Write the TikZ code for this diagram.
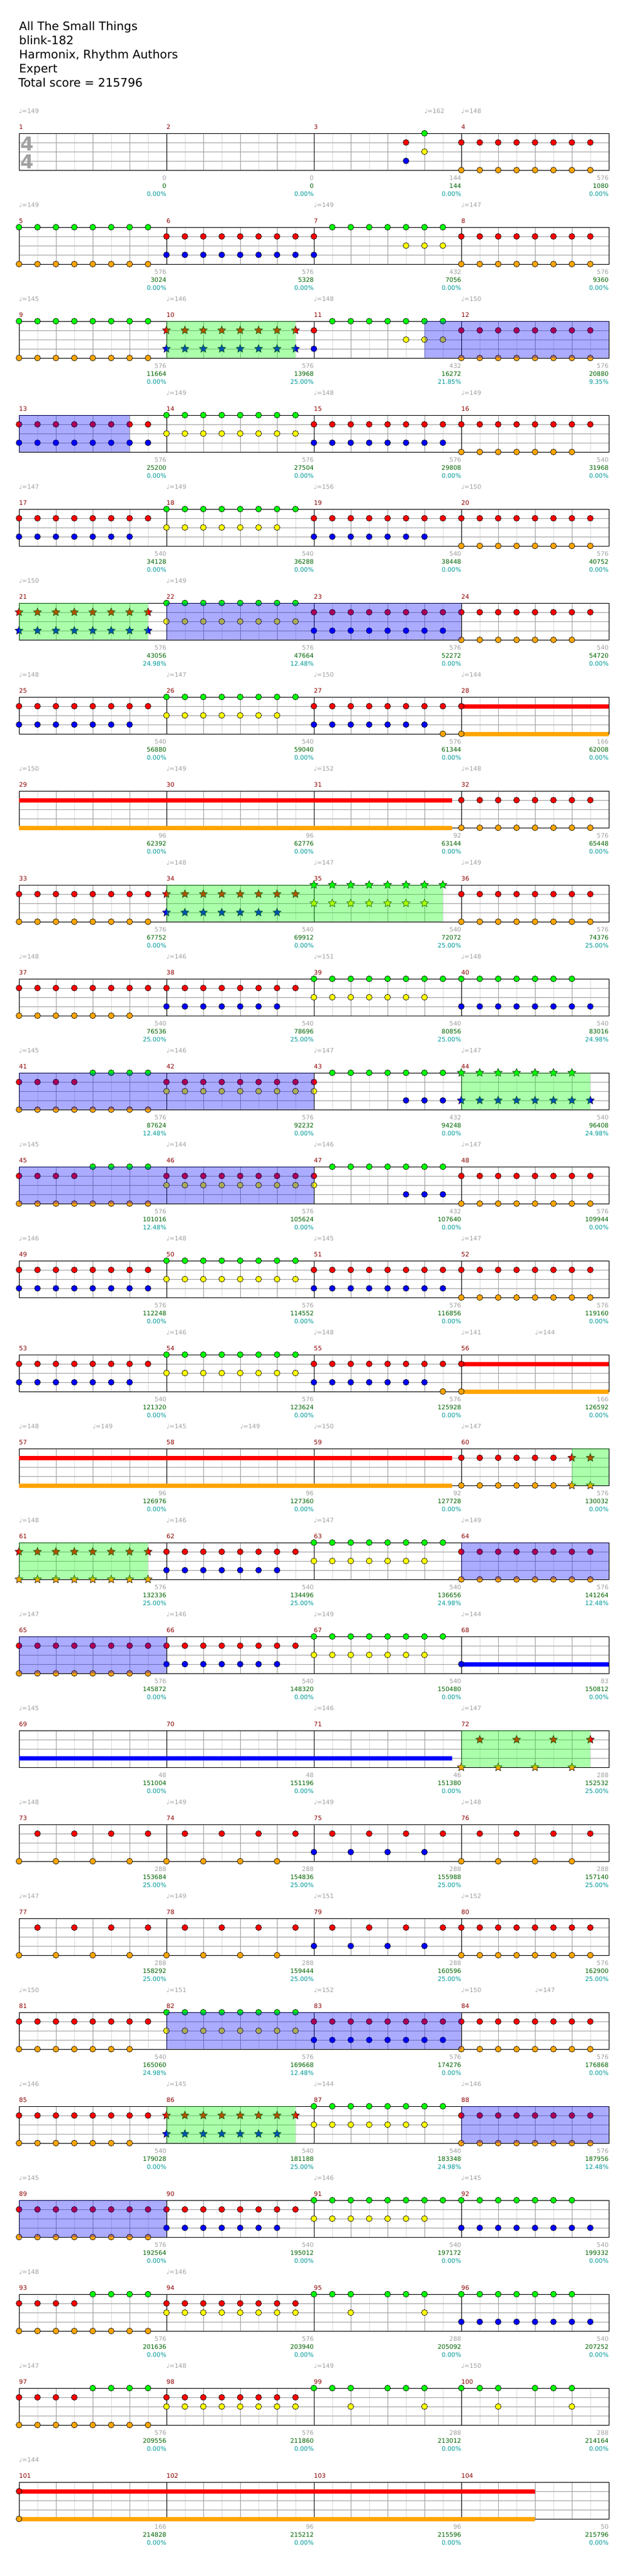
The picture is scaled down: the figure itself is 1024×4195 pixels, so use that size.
\documentclass[tikz,border=0pt]{standalone}
\usepackage{fontspec}
\setmainfont{DejaVu Sans}
\usetikzlibrary{shapes.geometric}

\definecolor{lane1}{HTML}{00FF00}
\definecolor{lane2}{HTML}{FF0000}
\definecolor{lane3}{HTML}{FFFF00}
\definecolor{lane4}{HTML}{0000FF}
\definecolor{lane5}{HTML}{FFA500}
\definecolor{gridlt}{HTML}{DCDCDC}
\definecolor{gridmd}{HTML}{A0A0A0}
\definecolor{mnumc}{HTML}{8B0000}
\definecolor{grayc}{HTML}{A0A0A0}
\definecolor{scorec}{HTML}{006400}
\definecolor{pctc}{HTML}{009999}

\tikzset{
  gemstyle/.style={draw=black, line width=0.6pt},
  starnote/.style={star, star points=5, star point ratio=2.2, minimum size=14pt, inner sep=0pt, draw=black, line width=0.5pt},
  sustain/.style={line width=7pt},
  eighthline/.style={draw=gridlt, line width=1pt},
  beatline/.style={draw=gridmd, line width=1pt},
  barline/.style={draw=black, line width=1pt},
  lbl/.style={inner sep=0pt, font=\fontsize{10}{12}\selectfont},
  mnum/.style={lbl, anchor=base west, text=mnumc},
  tempo/.style={lbl, anchor=base west, text=grayc},
  cnt/.style={lbl, anchor=base east, text=grayc},
  scr/.style={lbl, anchor=base east, text=scorec},
  pct/.style={lbl, anchor=base east, text=pctc},
  headline/.style={inner sep=0pt, anchor=base west, font=\fontsize{19}{23}\selectfont},
  timesig/.style={inner sep=0pt, anchor=base, text=grayc, font=\fontsize{31}{31}\selectfont\bfseries}
}

% measure, lane, eighth positions
\newcommand{\gem}[3]{%
  \pgfmathsetmacro{\nX}{31+240*mod(#1-1,4)}%
  \pgfmathsetmacro{\nY}{217+153*floor((#1-1)/4)+15*(#2-1)}%
  \foreach \k in {#3} {\filldraw[gemstyle, fill=lane#2] (\nX+30*\k,\nY) circle (4.8);}%
}
\newcommand{\sgem}[3]{%
  \pgfmathsetmacro{\nX}{31+240*mod(#1-1,4)}%
  \pgfmathsetmacro{\nY}{217+153*floor((#1-1)/4)+15*(#2-1)}%
  \foreach \k in {#3} {\node[starnote, fill=lane#2] (sg#1-#2-\k) at (\nX+30*\k,\nY) {};}%
}
% lane, row, from, to
\newcommand{\sus}[4]{%
  \pgfmathsetmacro{\nY}{217+153*(#2-1)+15*(#1-1)}%
  \draw[sustain, lane#1] (#3,\nY) -- (#4,\nY);%
}
\newcommand{\phr}[3]{\fill[lane1, opacity=.33] (#2,{217+153*(#1-1)}) rectangle (#3,{277+153*(#1-1)});}
\newcommand{\odr}[3]{\fill[lane4, opacity=.33] (#2,{217+153*(#1-1)}) rectangle (#3,{277+153*(#1-1)});}

\begin{document}
\begin{tikzpicture}[x=1pt, y=-1pt]
\useasboundingbox[fill=white] (0,0) rectangle (1024,4195);

\node[headline] (song) at (31,49) {All The Small Things};
\node[headline] (band) at (31,72) {blink-182};
\node[headline] (charter) at (31,95) {Harmonix, Rhythm Authors};
\node[headline] (level) at (31,118) {Expert};
\node[headline] (total) at (30,141) {Total score = 215796};

\foreach \r in {0,...,25} {
  \pgfmathsetmacro{\rowT}{217+153*\r}
  \foreach \i in {1,3,...,31} \draw[eighthline] (31+30*\i,\rowT) -- ++(0,60);
  \foreach \i in {2,4,6,10,12,14,18,20,22,26,28,30} \draw[beatline] (31+30*\i,\rowT) -- ++(0,60);
  \foreach \j in {1,2,3} \draw[beatline] (31,\rowT+15*\j) -- (991,\rowT+15*\j);
  \foreach \i in {1,2,3} \draw[barline] (31+240*\i,\rowT) -- ++(0,60);
  \draw[barline] (31,\rowT) rectangle (991,\rowT+60);
}

\node[timesig] (ts1) at (44,245) {4};
\node[timesig] (ts2) at (44,274) {4};

\sus{2}{7}{751}{991}\sus{5}{7}{751}{991}
\sus{2}{8}{31}{736}\sus{5}{8}{31}{736}
\sus{2}{14}{751}{991}\sus{5}{14}{751}{991}
\sus{2}{15}{31}{736}\sus{5}{15}{31}{736}
\sus{4}{17}{751}{991}
\sus{4}{18}{31}{736}
\sus{2}{26}{31}{871}\sus{5}{26}{31}{871}

\gem{3}{2}{5}\gem{3}{4}{5}\gem{3}{1}{6}\gem{3}{3}{6}
\gem{4}{2}{0,...,7}\gem{4}{5}{0,...,7}
\gem{5}{1}{0,...,7}\gem{5}{5}{0,...,7}
\gem{6}{2}{0,...,7}\gem{6}{4}{0,...,7}
\gem{7}{2}{0}\gem{7}{4}{0}\gem{7}{1}{1,...,7}\gem{7}{3}{5,6,7}
\gem{8}{2}{0,...,7}\gem{8}{5}{0,...,7}
\gem{9}{1}{0,...,7}\gem{9}{5}{0,...,7}
\sgem{10}{2}{0,...,7}\sgem{10}{4}{0,...,7}
\gem{11}{2}{0}\gem{11}{4}{0}\gem{11}{1}{1,...,7}\gem{11}{3}{5,6,7}
\gem{12}{2}{0,...,7}\gem{12}{5}{0,...,7}
\gem{13}{2}{0,...,7}\gem{13}{4}{0,...,7}
\gem{14}{1}{0,...,7}\gem{14}{3}{0,...,7}
\gem{15}{2}{0,...,7}\gem{15}{4}{0,...,7}
\gem{16}{2}{0,...,7}\gem{16}{5}{0,...,6}
\gem{17}{2}{0,...,7}\gem{17}{4}{0,...,6}
\gem{18}{1}{0,...,7}\gem{18}{3}{0,...,6}
\gem{19}{2}{0,...,7}\gem{19}{4}{0,...,6}
\gem{20}{2}{0,...,7}\gem{20}{5}{0,...,7}
\sgem{21}{2}{0,...,7}\sgem{21}{4}{0,...,7}
\gem{22}{1}{0,...,7}\gem{22}{3}{0,...,7}
\gem{23}{2}{0,...,7}\gem{23}{4}{0,...,7}
\gem{24}{2}{0,...,7}\gem{24}{5}{0,...,6}
\gem{25}{2}{0,...,7}\gem{25}{4}{0,...,6}
\gem{26}{1}{0,...,7}\gem{26}{3}{0,...,6}
\gem{27}{2}{0,...,7}\gem{27}{4}{0,...,6}\gem{27}{5}{7}
\gem{28}{2}{0}\gem{28}{5}{0}
\gem{32}{2}{0,...,7}\gem{32}{5}{0,...,7}
\gem{33}{2}{0,...,7}\gem{33}{5}{0,...,7}
\sgem{34}{2}{0,...,7}\sgem{34}{4}{0,...,6}
\sgem{35}{1}{0,...,7}\sgem{35}{3}{0,...,6}
\gem{36}{2}{0,...,7}\gem{36}{5}{0,...,7}
\gem{37}{2}{0,...,7}\gem{37}{5}{0,...,6}
\gem{38}{2}{0,...,7}\gem{38}{4}{0,...,6}
\gem{39}{1}{0,...,7}\gem{39}{3}{0,...,6}
\gem{40}{1}{0,...,6}\gem{40}{4}{0,...,7}
\gem{41}{2}{0,...,3}\gem{41}{1}{4,...,7}\gem{41}{5}{0,...,7}
\gem{42}{2}{0,...,7}\gem{42}{3}{0,...,7}
\gem{43}{2}{0}\gem{43}{3}{0}\gem{43}{1}{1,...,7}\gem{43}{4}{5,6,7}
\sgem{44}{1}{0,...,6}\sgem{44}{4}{0,...,7}
\gem{45}{2}{0,...,3}\gem{45}{1}{4,...,7}\gem{45}{5}{0,...,7}
\gem{46}{2}{0,...,7}\gem{46}{3}{0,...,7}
\gem{47}{2}{0}\gem{47}{3}{0}\gem{47}{1}{1,...,7}\gem{47}{4}{5,6,7}
\gem{48}{2}{0,...,7}\gem{48}{5}{0,...,7}
\gem{49}{2}{0,...,7}\gem{49}{4}{0,...,7}
\gem{50}{1}{0,...,7}\gem{50}{3}{0,...,7}
\gem{51}{2}{0,...,7}\gem{51}{4}{0,...,7}
\gem{52}{2}{0,...,7}\gem{52}{5}{0,...,7}
\gem{53}{2}{0,...,7}\gem{53}{4}{0,...,6}
\gem{54}{1}{0,...,7}\gem{54}{3}{0,...,7}
\gem{55}{2}{0,...,7}\gem{55}{4}{0,...,6}\gem{55}{5}{7}
\gem{56}{2}{0}\gem{56}{5}{0}
\gem{60}{2}{0,...,5}\gem{60}{5}{0,...,5}\sgem{60}{2}{6,7}\sgem{60}{5}{6,7}
\sgem{61}{2}{0,...,7}\sgem{61}{5}{0,...,7}
\gem{62}{2}{0,...,7}\gem{62}{4}{0,...,6}
\gem{63}{1}{0,...,7}\gem{63}{3}{0,...,6}
\gem{64}{2}{0,...,7}\gem{64}{5}{0,...,7}
\gem{65}{2}{0,...,7}\gem{65}{5}{0,...,7}
\gem{66}{2}{0,...,7}\gem{66}{4}{0,...,6}
\gem{67}{1}{0,...,7}\gem{67}{3}{0,...,6}
\gem{68}{4}{0}
\sgem{72}{2}{1,3,5,7}\sgem{72}{5}{0,2,4,6}
\gem{73}{2}{1,3,5,7}\gem{73}{5}{0,2,4,6}
\gem{74}{2}{1,3,5,7}\gem{74}{5}{0,2,4,6}
\gem{75}{2}{1,3,5,7}\gem{75}{4}{0,2,4,6}
\gem{76}{2}{1,3,5,7}\gem{76}{5}{0,2,4,6}
\gem{77}{2}{1,3,5,7}\gem{77}{5}{0,2,4,6}
\gem{78}{2}{1,3,5,7}\gem{78}{5}{0,2,4,6}
\gem{79}{2}{1,3,5,7}\gem{79}{4}{0,2,4,6}
\gem{80}{2}{0,...,7}\gem{80}{5}{0,...,7}
\gem{81}{2}{0,...,7}\gem{81}{5}{0,...,6}
\gem{82}{1}{0,...,7}\gem{82}{3}{0,...,7}
\gem{83}{2}{0,...,7}\gem{83}{4}{0,...,7}
\gem{84}{2}{0,...,7}\gem{84}{5}{0,...,7}
\gem{85}{2}{0,...,7}\gem{85}{5}{0,...,6}
\sgem{86}{2}{0,...,7}\sgem{86}{4}{0,...,6}
\gem{87}{1}{0,...,7}\gem{87}{3}{0,...,6}
\gem{88}{2}{0,...,7}\gem{88}{5}{0,...,7}
\gem{89}{2}{0,...,7}\gem{89}{5}{0,...,7}
\gem{90}{2}{0,...,7}\gem{90}{4}{0,...,6}
\gem{91}{1}{0,...,7}\gem{91}{3}{0,...,6}
\gem{92}{1}{0,...,6}\gem{92}{4}{0,...,7}
\gem{93}{2}{0,...,3}\gem{93}{1}{4,...,7}\gem{93}{5}{0,...,7}
\gem{94}{2}{0,...,7}\gem{94}{3}{0,...,7}
\gem{95}{1}{0,1,2,4,5,6}\gem{95}{3}{2,6}
\gem{96}{1}{0,...,6}\gem{96}{4}{0,...,7}
\gem{97}{2}{0,...,3}\gem{97}{1}{4,...,7}\gem{97}{5}{0,...,7}
\gem{98}{2}{0,...,7}\gem{98}{3}{0,...,7}
\gem{99}{1}{0,1,2,4,5,6}\gem{99}{3}{2,6}
\gem{100}{1}{0,1,2,4,5,6}\gem{100}{3}{2,6}
\gem{101}{2}{0}\gem{101}{5}{0}

\phr{3}{271}{481}
\phr{6}{31}{241}
\phr{9}{271}{721}
\phr{11}{751}{961}
\phr{15}{931}{991}
\phr{16}{31}{241}
\phr{18}{751}{961}
\phr{22}{271}{481}
\odr{3}{691}{991}
\odr{4}{31}{211}
\odr{6}{271}{751}
\odr{11}{31}{511}
\odr{12}{31}{511}
\odr{16}{751}{991}
\odr{17}{31}{271}
\odr{21}{271}{751}
\odr{22}{751}{991}
\odr{23}{31}{271}

\foreach \m in {1,...,104} {
  \pgfmathsetmacro{\nX}{31+240*mod(\m-1,4)}
  \pgfmathsetmacro{\nY}{217+153*floor((\m-1)/4)}
  \node[mnum] (m\m) at (\nX,\nY-7) {\m};
}

\foreach \r/\x/\v in {1/31/149,1/691/162,1/751/148,2/31/149,2/511/149,2/751/147,
  3/31/145,3/271/146,3/511/148,3/751/150,4/271/149,4/511/148,4/751/149,
  5/31/147,5/271/149,5/511/156,5/751/150,6/31/150,6/271/149,
  7/31/148,7/271/147,7/511/150,7/751/144,8/31/150,8/271/149,8/511/152,8/751/148,
  9/271/148,9/511/147,9/751/149,10/31/148,10/271/146,10/511/151,10/751/148,
  11/31/145,11/271/146,11/511/147,11/751/147,12/31/145,12/271/144,12/511/146,12/751/147,
  13/31/146,13/271/148,13/511/145,13/751/147,14/271/146,14/511/148,14/751/141,14/871/144,
  15/31/148,15/151/149,15/271/145,15/391/149,15/511/150,15/751/147,
  16/31/148,16/271/146,16/511/147,16/751/149,17/31/147,17/271/146,17/511/149,17/751/144,
  18/31/145,18/511/146,18/751/147,19/31/148,19/271/149,19/511/149,19/751/148,
  20/31/147,20/271/149,20/511/151,20/751/152,
  21/31/150,21/271/151,21/511/152,21/751/150,21/871/147,
  22/31/146,22/271/145,22/511/144,22/751/146,23/31/145,23/511/146,23/751/145,
  24/31/148,24/271/146,25/31/147,25/271/148,25/511/149,25/751/150,26/31/144}
  \node[tempo] (t\r-\x) at (\x,{217+153*(\r-1)-33}) {♩=\v};

\foreach \m/\nc/\ns/\np in {1/0/0/0.00,2/0/0/0.00,3/144/144/0.00,4/576/1080/0.00,
  5/576/3024/0.00,6/576/5328/0.00,7/432/7056/0.00,8/576/9360/0.00,
  9/576/11664/0.00,10/576/13968/25.00,11/432/16272/21.85,12/576/20880/9.35,
  13/576/25200/0.00,14/576/27504/0.00,15/576/29808/0.00,16/540/31968/0.00,
  17/540/34128/0.00,18/540/36288/0.00,19/540/38448/0.00,20/576/40752/0.00,
  21/576/43056/24.98,22/576/47664/12.48,23/576/52272/0.00,24/540/54720/0.00,
  25/540/56880/0.00,26/540/59040/0.00,27/576/61344/0.00,28/166/62008/0.00,
  29/96/62392/0.00,30/96/62776/0.00,31/92/63144/0.00,32/576/65448/0.00,
  33/576/67752/0.00,34/540/69912/0.00,35/540/72072/25.00,36/576/74376/25.00,
  37/540/76536/25.00,38/540/78696/25.00,39/540/80856/25.00,40/540/83016/24.98,
  41/576/87624/12.48,42/576/92232/0.00,43/432/94248/0.00,44/540/96408/24.98,
  45/576/101016/12.48,46/576/105624/0.00,47/432/107640/0.00,48/576/109944/0.00,
  49/576/112248/0.00,50/576/114552/0.00,51/576/116856/0.00,52/576/119160/0.00,
  53/540/121320/0.00,54/576/123624/0.00,55/576/125928/0.00,56/166/126592/0.00,
  57/96/126976/0.00,58/96/127360/0.00,59/92/127728/0.00,60/576/130032/0.00,
  61/576/132336/25.00,62/540/134496/25.00,63/540/136656/24.98,64/576/141264/12.48,
  65/576/145872/0.00,66/540/148320/0.00,67/540/150480/0.00,68/83/150812/0.00,
  69/48/151004/0.00,70/48/151196/0.00,71/46/151380/0.00,72/288/152532/25.00,
  73/288/153684/25.00,74/288/154836/25.00,75/288/155988/25.00,76/288/157140/25.00,
  77/288/158292/25.00,78/288/159444/25.00,79/288/160596/25.00,80/576/162900/25.00,
  81/540/165060/24.98,82/576/169668/12.48,83/576/174276/0.00,84/576/176868/0.00,
  85/540/179028/0.00,86/540/181188/25.00,87/540/183348/24.98,88/576/187956/12.48,
  89/576/192564/0.00,90/540/195012/0.00,91/540/197172/0.00,92/540/199332/0.00,
  93/576/201636/0.00,94/576/203940/0.00,95/288/205092/0.00,96/540/207252/0.00,
  97/576/209556/0.00,98/576/211860/0.00,99/288/213012/0.00,100/288/214164/0.00,
  101/166/214828/0.00,102/96/215212/0.00,103/96/215596/0.00,104/50/215796/0.00} {
  \pgfmathsetmacro{\nX}{31+240*(mod(\m-1,4)+1)}
  \pgfmathsetmacro{\nY}{217+153*floor((\m-1)/4)}
  \node[cnt] (cn\m) at (\nX,\nY+76) {\nc};
  \node[scr] (sc\m) at (\nX,\nY+89) {\ns};
  \node[pct] (pc\m) at (\nX,\nY+102) {\np\%};
}

\end{tikzpicture}
\end{document}
